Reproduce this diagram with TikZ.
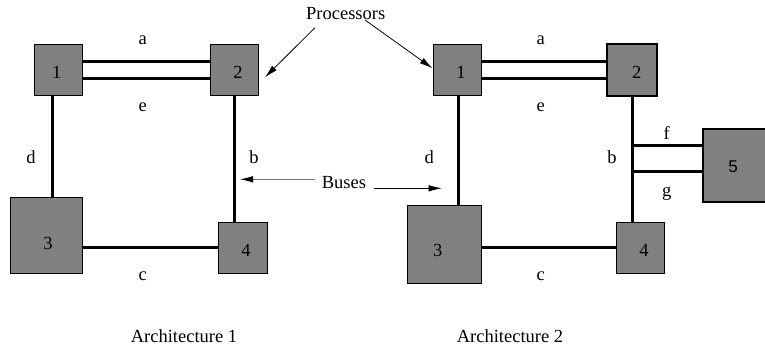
\documentclass[tikz,border=0pt]{standalone}
\usepackage{fontspec}
\setmainfont{Liberation Serif}
\newfontfamily\digitsans{Liberation Sans}
\usetikzlibrary{arrows.meta}
\definecolor{boxgray}{HTML}{808080}
\begin{document}
\begin{tikzpicture}[x=1pt,y=-1pt,
  box/.style={draw=black, fill=boxgray, line width=1pt, inner sep=0pt, minimum width=#1},
  thickbox/.style={box=#1, line width=2.6pt},
  bus/.style={line width=3pt},
  ptr/.style={line width=0.8pt, -{Latex[length=13pt,width=6.5pt]}},
  txt/.style={inner sep=0pt, font=\fontsize{18.5}{20}\selectfont},
  ]
\clip (0,0) rectangle (765,348);
\fill[white] (0,0) rectangle (765,348);
% ---------- Architecture 1 ----------
\node[box=48pt, minimum height=51pt] (a1) at (58.7,69.7) {};
\node[box=48pt, minimum height=51pt] (a2) at (234,69.5) {};
\node[box=72pt, minimum height=76pt] (a3) at (46.7,235) {};
\node[box=49pt, minimum height=51pt] (a4) at (242.5,247.5) {};
\node[txt] (a1t) at (56.7,72.7) {1};
\node[txt] (a2t) at (238,72.7) {2};
\node[txt] (a3t) at (48,243) {3};
\node[txt] (a4t) at (246,250) {4};
\draw[bus] (a1.east |- 0,61.3) -- (a2.west |- 0,61.3);
\draw[bus] (a1.east |- 0,78.7) -- (a2.west |- 0,78.7);
\draw[bus] (a1.south -| 52,0) -- (a3.north -| 52,0);
\draw[bus] (a2.south -| 234,0) -- (a4.north -| 234,0);
\draw[bus] (a3.east |- 0,247) -- (a4.west |- 0,247);
\node[txt] (la) at (142.7,40.7) {a};
\node[txt] (le) at (142.7,107.3) {e};
\node[txt] (ld) at (31,157) {d};
\node[txt] (lb) at (254,157) {b};
\node[txt] (lc) at (142.7,276.7) {c};
% ---------- Architecture 2 ----------
\node[box=48pt, minimum height=51pt] (b1) at (457,69.5) {};
\node[thickbox=50pt, minimum height=52pt] (b2) at (632,70) {};
\node[box=74pt, minimum height=78pt] (b3) at (444,244) {};
\node[box=48pt, minimum height=51pt] (b4) at (640,247.5) {};
\node[thickbox=82pt, minimum height=73pt] (b5) at (744,165.5) {};
\node[txt] (b1t) at (461,72.7) {1};
\node[txt] (b2t) at (636.7,72.7) {2};
\node[txt] (b3t) at (437.7,250) {3};
\node[txt] (b4t) at (644,250) {4};
\node[txt, font=\digitsans\fontsize{17}{20}\selectfont] (b5t) at (733,166.5) {5};
\draw[bus] (b1.east |- 0,61.5) -- (b2.west |- 0,61.5);
\draw[bus] (b1.east |- 0,78.5) -- (b2.west |- 0,78.5);
\draw[bus] (b1.south -| 458.7,0) -- (b3.north -| 458.7,0);
\draw[bus] (b2.south) -- (b4.north -| b2.south);
\draw[bus] (b3.east |- 0,247) -- (b4.west |- 0,247);
\draw[bus] (b2.south |- 0,145.7) -- (b5.west |- 0,145.7);
\draw[bus] (b2.south |- 0,171.7) -- (b5.west |- 0,171.7);
\node[txt] (ma) at (540.7,40.7) {a};
\node[txt] (me) at (540.7,107.3) {e};
\node[txt] (md) at (429.3,157) {d};
\node[txt] (mb) at (612,157) {b};
\node[txt] (mf) at (666.7,132.7) {f};
\node[txt] (mg) at (666.7,193.3) {g};
\node[txt] (mc) at (540.7,276.7) {c};
% ---------- annotations ----------
\node[txt] (proc) at (345.7,14) {Processors};
\node[txt] (buses) at (344,183) {Buses};
\coordinate (p1) at (315,27.7);
\coordinate (p2) at (265,77.3);
\coordinate (p3) at (365,20);
\coordinate (bs1) at (315,179.3);
\coordinate (bb) at (240,179.3);
\coordinate (bs2) at (374,188.3);
\coordinate (bd) at (441.7,188.3);
\draw[ptr] (p1) -- (p2);
\draw[ptr] (p3) -- (b1.west |- 0,68.3);
\draw[ptr, draw=black!55, -{Latex[length=13pt,width=6.5pt,color=black]}] (bs1) -- (bb);
\draw[ptr] (bs2) -- (bd);
\node[txt] (cap1) at (184,336) {Architecture 1};
\node[txt] (cap2) at (510,336) {Architecture 2};
\end{tikzpicture}
\end{document}
